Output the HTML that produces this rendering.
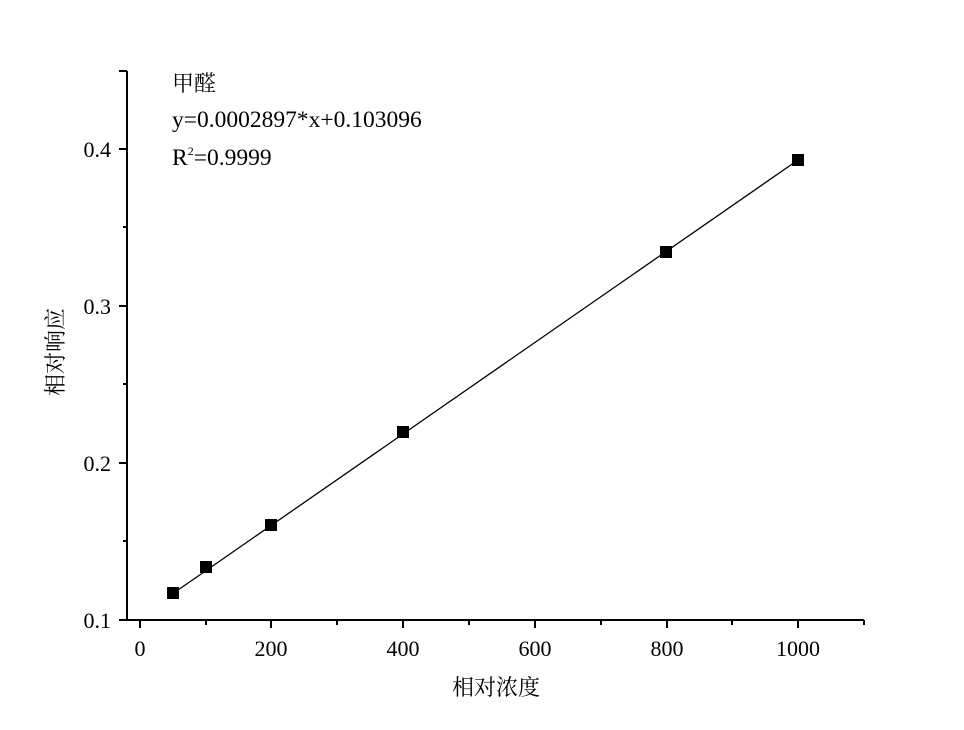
<!DOCTYPE html>
<html><head><meta charset="utf-8"><style>body{margin:0;background:#fff}</style></head><body>
<svg width="964" height="725" xmlns="http://www.w3.org/2000/svg" font-family="Liberation Serif, Noto Serif CJK SC, serif" fill="#000">
<g stroke="#000" stroke-width="2" fill="none">
<path d="M127,71V620H864"/>
<path d="M119,71H127"/>
<path d="M119,620H127M119,463H127M119,306H127M119,149H127"/>
<path d="M123,541H127M123,384H127M123,227H127"/>
<path d="M140,620V628M271,620V628M403,620V628M535,620V628M667,620V628M798,620V628"/>
<path d="M206,620V625M337,620V625M469,620V625M601,620V625M732,620V625M864,620V625"/>
</g>
<line x1="173" y1="593.5" x2="798" y2="160" stroke="#000" stroke-width="1.3"/>
<g>
<rect x="167" y="587" width="12" height="12"/><rect x="200" y="561" width="12" height="12"/><rect x="265" y="519" width="12" height="12"/><rect x="397" y="426" width="12" height="12"/><rect x="660" y="246" width="12" height="12"/><rect x="792" y="154" width="12" height="12"/>
</g>
<g font-size="22" text-anchor="end">
<text x="111" y="628">0.1</text><text x="111" y="471">0.2</text><text x="111" y="314">0.3</text><text x="111" y="157">0.4</text>
</g>
<g font-size="22" text-anchor="middle">
<text x="140" y="656">0</text><text x="271" y="656">200</text><text x="403" y="656">400</text><text x="535" y="656">600</text><text x="667" y="656">800</text><text x="798" y="656">1000</text>
</g>
<text x="496" y="695" font-size="22" text-anchor="middle" font-family="Noto Serif CJK SC, serif">相对浓度</text>
<text transform="translate(63,352) rotate(-90)" font-size="22" text-anchor="middle" font-family="Noto Serif CJK SC, serif">相对响应</text>
<text x="172" y="91" font-size="22" font-family="Noto Serif CJK SC, serif">甲醛</text>
<text x="172" y="127" font-size="23.5">y=0.0002897*x+0.103096</text>
<text x="172" y="165" font-size="23.5">R<tspan font-size="12" dy="-10">2</tspan><tspan dy="10">=0.9999</tspan></text>
</svg>
</body></html>
